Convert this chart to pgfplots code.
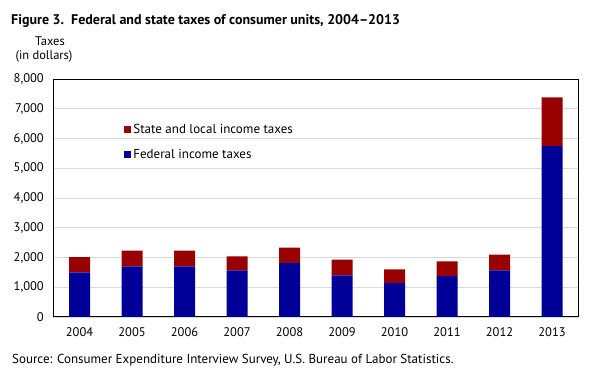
\documentclass[border=0pt]{standalone}
\usepackage{pgfplots}
\pgfplotsset{compat=1.18}
\usepackage{fontspec}
\setmainfont{PT Sans}
\definecolor{fedblue}{HTML}{000099}
\definecolor{statered}{HTML}{990000}
\definecolor{gridgray}{HTML}{D9D9D9}
\begin{document}
\begin{tikzpicture}
\path[use as bounding box] (0,0) rectangle (604pt,379pt);
\node[anchor=west,font=\bfseries\fontsize{14}{16}\selectfont,inner sep=0pt] at (11pt,358.5pt) {Figure 3.\ \ Federal and state taxes of consumer units, 2004–2013};
\node[font=\fontsize{12.5}{14}\selectfont,inner sep=0pt] at (50pt,338pt) {Taxes};
\node[font=\fontsize{12.5}{14}\selectfont,inner sep=0pt] at (44pt,323pt) {(in dollars)};
\node[anchor=west,font=\fontsize{13}{15}\selectfont,inner sep=0pt] at (12pt,18.5pt) {Source: Consumer Expenditure Interview Survey, U.S. Bureau of Labor Statistics.};
\begin{axis}[
  at={(53.3pt,62pt)}, anchor=south west,
  scale only axis, width=525pt, height=238pt,
  ybar stacked, bar width=21pt,
  xmin=-0.5, xmax=9.5, ymin=0, ymax=8000,
  xtick={0,...,9},
  xticklabels={2004,2005,2006,2007,2008,2009,2010,2011,2012,2013},
  ytick={0,1000,...,8000},
  major tick length=0pt,
  ymajorgrids, grid style={gridgray, line width=0.8pt},
  axis line style={black, line width=1pt},
  tick label style={font=\fontsize{12.5}{14}\selectfont},
  xticklabel style={yshift=-7pt},
  yticklabel style={xshift=-6pt},
  /pgf/number format/.cd, 1000 sep={,}, assume math mode=true,
  /pgfplots/.cd,
  reverse legend,
  legend style={draw=none, fill=none, at={(0.135,0.82)}, anchor=north west,
    font=\fontsize{13}{15}\selectfont, row sep=10pt, inner sep=0pt,
    /tikz/every even column/.append style={column sep=0pt}},
  legend cell align=left,
  legend image code/.code={\fill[#1] (0pt,-3.5pt) rectangle (7pt,3.5pt);},
]
\addplot[fill=fedblue, draw=none] coordinates {(0,1500) (1,1700) (2,1700) (3,1570) (4,1810) (5,1400) (6,1140) (7,1370) (8,1570) (9,5740)};
\addlegendentry{Federal income taxes}
\addplot[fill=statered, draw=none] coordinates {(0,510) (1,530) (2,530) (3,470) (4,520) (5,530) (6,460) (7,500) (8,530) (9,1640)};
\addlegendentry{State and local income taxes}
\end{axis}
\end{tikzpicture}
\end{document}
